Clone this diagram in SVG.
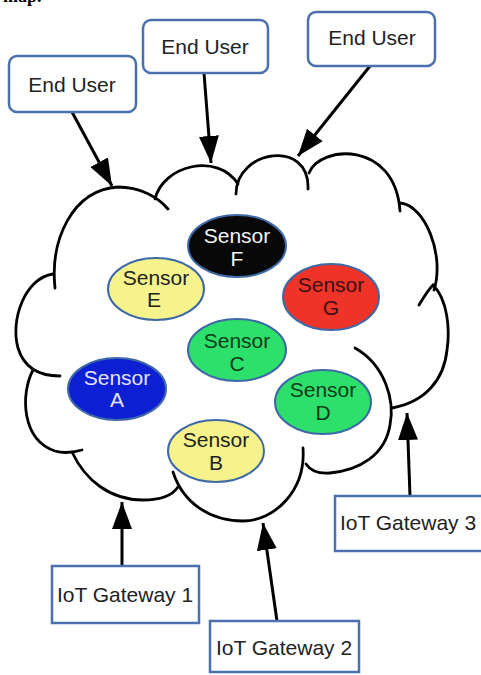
<svg xmlns="http://www.w3.org/2000/svg" width="481" height="675" viewBox="0 0 481 675">
<defs>
<style>
.box{fill:#fff;stroke:#4a70ad;stroke-width:2.5}
.t{font-family:"Liberation Sans",Arial,sans-serif;font-size:21px;text-anchor:middle;fill:#222}
.cloud path{fill:none;stroke:#000;stroke-width:2.8;stroke-linecap:round}
.conn line{stroke:#000;stroke-width:3;marker-end:url(#ah)}
.s{stroke:#3e69a6;stroke-width:2}
</style>
<marker id="ah" markerUnits="userSpaceOnUse" markerWidth="28" markerHeight="22" refX="27" refY="10" orient="auto" viewBox="0 0 28 20">
<path d="M0,0 L27,10 L0,20 z" fill="#000"/>
</marker>
</defs>
<rect width="481" height="675" fill="#fff"/>
<text x="3" y="2" style="font-family:'Liberation Serif',serif;font-size:18px;font-weight:bold" fill="#000">map.</text>

<g id="cloud" class="cloud">
<path d="M55,288 C50,240 72,190 118,187 C140,187 158,197 168,209"/>
<path d="M155,199 C163,165 218,152 238,184"/>
<path d="M236,194 C236,150 310,138 308,189"/>
<path d="M309,173 C320,145 395,140 400,211"/>
<path d="M400,203 C425,205 445,255 434,290"/>
<path d="M419,305 C425,295 430,288 433,285 C448,300 450,330 447,350 C444,380 425,402 392,408"/>
<path d="M355,348 C385,365 395,400 390,425 C385,455 360,470 330,473 C318,474 310,470 306,464"/>
<path d="M303,448 C306,490 275,521 243,521 C210,521 183,503 173,472"/>
<path d="M72,452 C85,480 110,500 143,500 C160,500 172,496 178,487"/>
<path d="M33,370 C20,395 22,440 55,451 C65,454 75,452 82,450"/>
<path d="M53,274 C25,278 10,320 18,348 C24,368 40,376 60,376"/>
</g>

<g id="connectors" class="conn">
<line x1="72" y1="112" x2="112" y2="186"/>
<line x1="204" y1="73" x2="211" y2="163"/>
<line x1="370" y1="66" x2="298" y2="156"/>
<line x1="122" y1="566" x2="122" y2="502"/>
<line x1="277" y1="621" x2="263" y2="523"/>
<line x1="410" y1="496" x2="407" y2="413"/>
</g>

<g id="enduser1"><rect class="box" x="9" y="56" width="127" height="56" rx="8"/><text class="t" x="72" y="92">End User</text></g>
<g id="enduser2"><rect class="box" x="143" y="20" width="125" height="53" rx="8"/><text class="t" x="205" y="54">End User</text></g>
<g id="enduser3"><rect class="box" x="308" y="12" width="127" height="54" rx="8"/><text class="t" x="372" y="45">End User</text></g>

<g id="gateway1"><rect class="box" x="52" y="566" width="147" height="57"/><text class="t" x="125" y="602">IoT Gateway 1</text></g>
<g id="gateway2"><rect class="box" x="210" y="621" width="149" height="51"/><text class="t" x="284" y="655">IoT Gateway 2</text></g>
<g id="gateway3"><rect class="box" x="335" y="496" width="150" height="55"/><text class="t" x="408" y="530">IoT Gateway 3</text></g>

<g id="sensorF"><ellipse class="s" cx="237" cy="246" rx="49" ry="31" fill="#080808"/><text class="t" x="237" y="243" fill="#fff" style="fill:#f4f4f4">Sensor</text><text class="t" x="237" y="266" style="fill:#f4f4f4">F</text></g>
<g id="sensorE"><ellipse class="s" cx="156" cy="289" rx="48" ry="31" fill="#f6f38c"/><text class="t" x="156" y="285">Sensor</text><text class="t" x="154" y="307">E</text></g>
<g id="sensorG"><ellipse class="s" cx="331" cy="297" rx="48" ry="33" fill="#ee3328"/><text class="t" x="331" y="292" style="fill:#3a1010">Sensor</text><text class="t" x="331" y="315" style="fill:#3a1010">G</text></g>
<g id="sensorC"><ellipse class="s" cx="237" cy="350" rx="49" ry="31" fill="#2de06c"/><text class="t" x="237" y="348" style="fill:#103a18">Sensor</text><text class="t" x="237" y="371" style="fill:#103a18">C</text></g>
<g id="sensorA"><ellipse class="s" cx="117" cy="389" rx="49" ry="31" fill="#0c1fd2"/><text class="t" x="117" y="385" style="fill:#e4e4ff">Sensor</text><text class="t" x="117" y="407" style="fill:#e4e4ff">A</text></g>
<g id="sensorD"><ellipse class="s" cx="323" cy="402" rx="48" ry="32" fill="#2de06c"/><text class="t" x="323" y="397" style="fill:#103a18">Sensor</text><text class="t" x="323" y="420" style="fill:#103a18">D</text></g>
<g id="sensorB"><ellipse class="s" cx="216" cy="451" rx="48" ry="31" fill="#f6f38c"/><text class="t" x="216" y="447">Sensor</text><text class="t" x="216" y="470">B</text></g>
</svg>
